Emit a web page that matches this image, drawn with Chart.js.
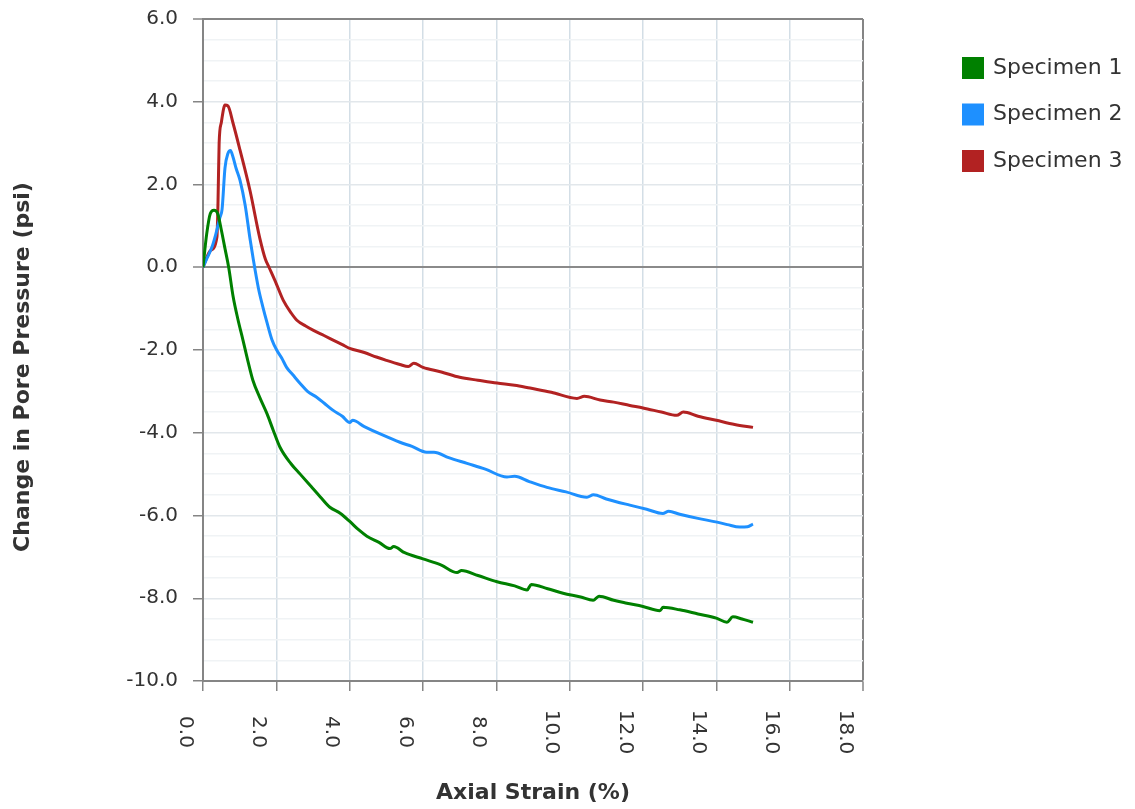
<!DOCTYPE html>
<html>
<head>
<meta charset="utf-8">
<title>Pore pressure vs axial strain</title>
<script src="https://cdn.jsdelivr.net/npm/chart.js@4/dist/chart.umd.min.js"></script>
<style>
  body { margin: 0; background: #fff; }
  #wrap { width: 1135px; height: 809px; }
</style>
</head>
<body>
<div id="wrap"><canvas id="chart" width="1135" height="809"></canvas></div>
<script>
// data
const seriesNames = ['Specimen 1', 'Specimen 2', 'Specimen 3'];
const seriesColors = ['#008000', '#1e90ff', '#b22222'];

const strain1 = [0, 0.1, 0.2, 0.3, 0.4, 0.5, 0.6, 0.7, 0.82, 0.95, 1.09, 1.22, 1.36, 1.55, 1.75, 1.92, 2.1, 2.4, 2.65, 2.95, 3.2, 3.46, 3.75, 4.01, 4.25, 4.47, 4.8, 5.1, 5.2, 5.5, 6.0, 6.5, 6.93, 7.05, 7.5, 8.02, 8.5, 8.84, 8.95, 9.4, 9.82, 10.3, 10.64, 10.8, 11.2, 11.56, 12.0, 12.46, 12.55, 13.0, 13.5, 14.0, 14.29, 14.45, 14.7, 15.0];
const pressure1 = [0, 0.8, 1.3, 1.38, 1.3, 0.9, 0.45, 0.0, -0.7, -1.25, -1.76, -2.25, -2.73, -3.15, -3.55, -3.95, -4.35, -4.75, -5.0, -5.3, -5.55, -5.8, -5.95, -6.15, -6.35, -6.5, -6.65, -6.8, -6.75, -6.9, -7.05, -7.2, -7.38, -7.33, -7.45, -7.6, -7.7, -7.8, -7.67, -7.77, -7.88, -7.97, -8.05, -7.95, -8.05, -8.12, -8.2, -8.3, -8.22, -8.28, -8.38, -8.48, -8.58, -8.45, -8.5, -8.58];

const strain2 = [0, 0.1, 0.25, 0.35, 0.46, 0.52, 0.6, 0.68, 0.75, 0.82, 0.9, 1.01, 1.15, 1.28, 1.37, 1.51, 1.63, 1.75, 1.88, 2.01, 2.15, 2.28, 2.45, 2.65, 2.85, 3.1, 3.3, 3.55, 3.8, 4.0, 4.08, 4.4, 4.91, 5.37, 5.7, 6.1, 6.3, 6.7, 7.2, 7.7, 8.29, 8.5, 8.9, 9.38, 9.9, 10.47, 10.65, 11.0, 11.64, 12.1, 12.54, 12.7, 13.0, 13.5, 14.02, 14.3, 14.64, 14.85, 15.0];
const pressure2 = [0, 0.2, 0.5, 0.8, 1.2, 1.4, 2.4, 2.75, 2.82, 2.66, 2.4, 2.1, 1.5, 0.7, 0.2, -0.5, -0.95, -1.35, -1.75, -2.0, -2.2, -2.42, -2.6, -2.81, -3.0, -3.14, -3.28, -3.46, -3.6, -3.75, -3.7, -3.85, -4.06, -4.23, -4.33, -4.47, -4.47, -4.6, -4.74, -4.88, -5.07, -5.05, -5.18, -5.32, -5.43, -5.56, -5.5, -5.6, -5.75, -5.85, -5.95, -5.9, -5.97, -6.07, -6.16, -6.22, -6.28, -6.27, -6.21];

const strain3 = [0, 0.2, 0.38, 0.41, 0.44, 0.5, 0.6, 0.68, 0.82, 1.01, 1.28, 1.55, 1.7, 1.8, 2.0, 2.19, 2.4, 2.56, 2.8, 3.0, 3.3, 3.55, 3.8, 4.0, 4.4, 4.73, 5.0, 5.37, 5.6, 5.75, 6.0, 6.5, 7.0, 7.5, 8.02, 8.5, 8.92, 9.5, 10.2, 10.4, 10.83, 11.2, 11.64, 12.0, 12.5, 12.92, 13.1, 13.5, 14.0, 14.5, 15.0];
const pressure3 = [0, 0.4, 0.73, 1.6, 3.0, 3.5, 3.92, 3.9, 3.48, 2.83, 1.86, 0.7, 0.2, 0, -0.4, -0.8, -1.1, -1.28, -1.42, -1.52, -1.65, -1.76, -1.87, -1.96, -2.06, -2.17, -2.25, -2.35, -2.4, -2.32, -2.42, -2.53, -2.66, -2.73, -2.8, -2.85, -2.92, -3.02, -3.17, -3.12, -3.21, -3.26, -3.34, -3.4, -3.5, -3.58, -3.5, -3.6, -3.7, -3.8, -3.87];

const xTitle = 'Axial Strain (%)';
const yTitle = 'Change in Pore Pressure (psi)';

const strains = [strain1, strain2, strain3];
const pressures = [pressure1, pressure2, pressure3];

function toPoints(xs, ys) {
  return xs.map((x, i) => ({ x: x, y: ys[i] }));
}

const datasets = seriesNames.map((name, i) => ({
  label: name,
  data: toPoints(strains[i], pressures[i]),
  borderColor: seriesColors[i],
  backgroundColor: seriesColors[i],
  borderWidth: 3,
  pointRadius: 0,
  cubicInterpolationMode: 'monotone',
  fill: false
}));

const textColor = '#333';
const axisGray = '#858585';

// x labels are turned clockwise and drawn by hand, plus legend and titles
const extrasPlugin = {
  id: 'extras',
  afterDraw(chart) {
    const ctx = chart.ctx;
    const xs = chart.scales.x;
    const area = chart.chartArea;

    ctx.save();
    ctx.fillStyle = textColor;
    ctx.font = '20px "DejaVu Sans"';
    ctx.textAlign = 'center';
    ctx.textBaseline = 'middle';
    xs.ticks.forEach(t => {
      const px = xs.getPixelForValue(t.value);
      ctx.save();
      ctx.translate(px - 18, 732);
      ctx.rotate(Math.PI / 2);
      ctx.fillText(t.value.toFixed(1), 0, 0);
      ctx.restore();
    });

    // axis titles
    ctx.font = 'bold 22px "DejaVu Sans"';
    ctx.fillText(xTitle, (area.left + area.right) / 2, 793);
    ctx.save();
    ctx.translate(23, 367);
    ctx.rotate(-Math.PI / 2);
    ctx.fillText(yTitle, 0, 0);
    ctx.restore();

    // legend
    ctx.font = '22px "DejaVu Sans"';
    ctx.textAlign = 'left';
    chart.data.datasets.forEach((ds, i) => {
      const top = 57 + i * 46.5;
      ctx.fillStyle = ds.borderColor;
      ctx.fillRect(962, top, 22, 22);
      ctx.fillStyle = textColor;
      ctx.fillText(ds.label, 993, top + 11);
    });
    ctx.restore();
  }
};

new Chart(document.getElementById('chart'), {
  type: 'line',
  data: { datasets: datasets },
  options: {
    responsive: false,
    devicePixelRatio: 1,
    animation: false,
    layout: { padding: { top: 19, right: 272, left: 0, bottom: 0 } },
    plugins: {
      legend: { display: false },
      tooltip: { enabled: false }
    },
    scales: {
      x: {
        type: 'linear',
        min: 0,
        max: 18,
        afterFit: scale => {
          scale.height = 128;
          scale.paddingLeft = 0;
          scale.paddingRight = 0;
        },
        ticks: { stepSize: 2, display: false },
        grid: {
          color: c => c.tick.value === 0 ? 'rgba(0,0,0,0)' : (c.tick.value === 18 ? axisGray : '#d3dee6'),
          lineWidth: c => c.tick.value === 18 ? 2 : 1.5,
          tickLength: 10,
          tickColor: axisGray,
          tickWidth: 1.5
        },
        border: { color: axisGray, width: 2 }
      },
      y: {
        min: -10,
        max: 6,
        afterFit: scale => {
          scale.width = 203;
          scale.paddingTop = 0;
          scale.paddingBottom = 0;
        },
        ticks: {
          stepSize: 0.5,
          autoSkip: false,
          padding: 15,
          color: textColor,
          font: { family: '"DejaVu Sans"', size: 20 },
          callback: v => (Math.abs(v % 2) < 1e-9 ? v.toFixed(1) : '')
        },
        grid: {
          color: c => {
            const v = c.tick.value;
            if (v === 0) return '#8a8a8a';
            if (v === 6) return axisGray;
            return Math.abs(v % 2) < 1e-9 ? '#e2e7eb' : '#f0f3f5';
          },
          lineWidth: c => (c.tick.value === 0 || c.tick.value === 6) ? 2 : 1.5,
          tickLength: 10,
          tickColor: c => Math.abs(c.tick.value % 2) < 1e-9 ? axisGray : 'rgba(0,0,0,0)',
          tickWidth: 1.5
        },
        border: { color: axisGray, width: 2 }
      }
    }
  },
  plugins: [extrasPlugin]
});
</script>
</body>
</html>
